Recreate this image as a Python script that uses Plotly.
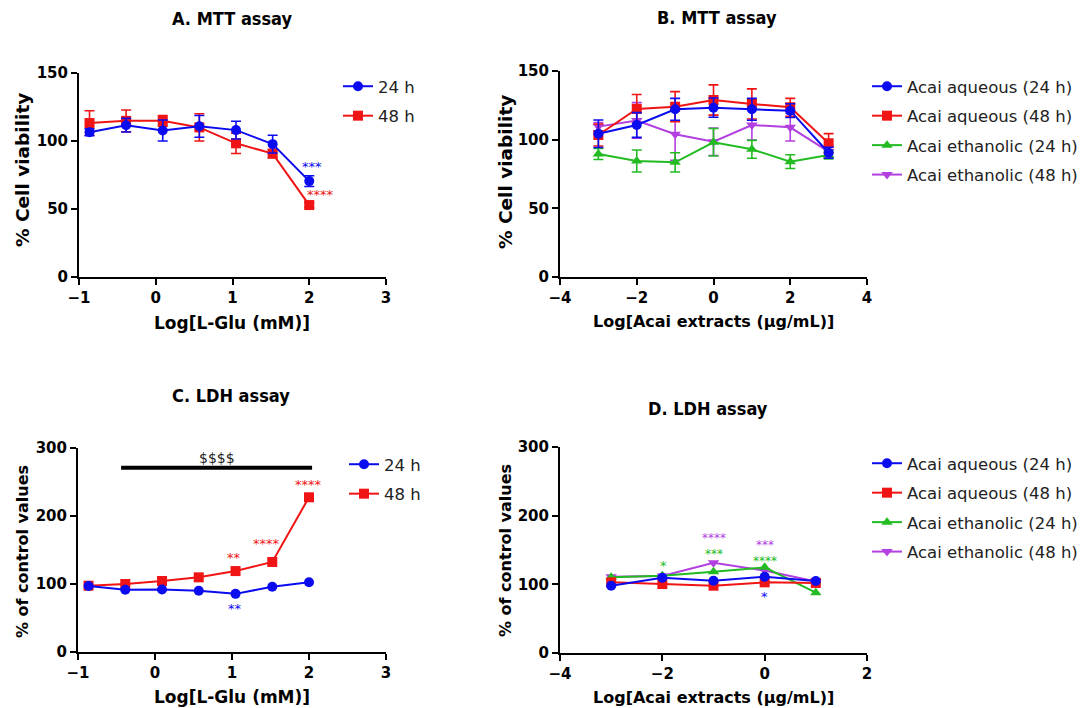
import plotly.graph_objects as go

# ---------------- data ----------------
# Panel A: MTT, L-Glu
glu_log = [-0.863, -0.386, 0.091, 0.568, 1.046, 1.523, 2.0]
mtt_glu_24 = [106.4, 111.6, 107.7, 110.8, 108.0, 97.7, 70.5]
mtt_glu_24_err = [2.5, 5, 7.7, 8, 6.5, 6.5, 4]
mtt_glu_48 = [113.2, 114.8, 114.8, 110.0, 98.3, 90.7, 52.9]
mtt_glu_48_err = [9, 8, 4, 10, 7.5, 3, 2]

# Panel B: MTT, Acai extracts
acai_log = [-3, -2, -1, 0, 1, 2, 3]
mtt_aq24 = [104.3, 110.7, 122.1, 123.3, 122.1, 121.1, 90.5]
mtt_aq24_err = [10, 9, 8, 7, 8, 5, 4]
mtt_aq48 = [103.4, 122.4, 124.0, 128.9, 126.0, 123.6, 97.4]
mtt_aq48_err = [8, 10.5, 11, 11, 11, 6.5, 7]
mtt_et24 = [89.6, 84.5, 83.5, 98.1, 93.0, 84.0, 88.9]
mtt_et24_err = [4, 8, 7, 10, 6.5, 5, 3]
mtt_et48 = [109.5, 114.0, 103.9, 98.5, 110.7, 109.0, 91.3]
mtt_et48_err = [3, 13, 19, 10, 11, 10, 4]

# Panel C: LDH, L-Glu
ldh_glu_24 = [97.0, 91.5, 92.0, 90.0, 85.5, 96.0, 102.5]
ldh_glu_48 = [97.5, 100.0, 104.4, 109.8, 119.0, 132.4, 227.5]

# Panel D: LDH, Acai extracts
acai_log_d = [-3, -2, -1, 0, 1]
ldh_aq24 = [98.0, 109.6, 105.3, 111.0, 104.8]
ldh_aq48 = [102.9, 100.4, 98.0, 102.9, 102.0]
ldh_et24 = [110.2, 112.5, 118.4, 124.7, 87.8]
ldh_et48 = [111.0, 112.0, 131.4, 120.0, 104.0]

series_names_glu = ["24 h", "48 h"]
series_names_acai = ["Acai aqueous (24 h)", "Acai aqueous (48 h)",
                     "Acai ethanolic (24 h)", "Acai ethanolic (48 h)"]

panel_titles = ["A. MTT assay", "B. MTT assay", "C. LDH assay", "D. LDH assay"]
x_titles = ["Log[L-Glu (mM)]", "Log[Acai extracts (μg/mL)]",
            "Log[L-Glu (mM)]", "Log[Acai extracts (μg/mL)]"]
y_titles = ["% Cell viability", "% Cell viability",
            "% of control values", "% of control values"]

# significance marks: (panel, text, x, y, series index)
sig_glu = [
    ("A", "***", 2.03, 81, 0), ("A", "****", 2.14, 60.5, 1),
    ("C", "**", 1.03, 139, 1), ("C", "****", 1.45, 159, 1),
    ("C", "****", 1.99, 246, 1), ("C", "**", 1.04, 64, 0),
]
sig_acai = [
    ("D", "*", -1.98, 128, 2), ("D", "****", -1.0, 164.5, 3),
    ("D", "***", -1.0, 146.6, 2), ("D", "***", 0.0, 154.3, 3),
    ("D", "****", 0.0, 137.8, 2), ("D", "*", 0.0, 82, 0),
]
bar_x = [-0.44, 2.04]
bar_y = 271
bar_label = "$$$$"

# ---------------- style ----------------
OFF = 8                      # page body margin of the browser
W, H = 1092 - OFF, 708 - OFF
colors = ["#0b0bf0", "#f01414", "#22bb22", "#b23fe0"]
symbols = ["circle", "square", "triangle-up", "triangle-down"]
BOLD = "DejaVu Sans"

def px(x):
    return (x - OFF) / W

def py(y):
    return (H - (y - OFF)) / H

doms = {
    "A": ([px(79), px(386)], [py(277), py(73)]),
    "B": ([px(560), px(867)], [py(277), py(71)]),
    "C": ([px(78), px(386)], [py(652), py(448)]),
    "D": ([px(560), px(867)], [py(653), py(447)]),
}
axid = {"A": "", "B": "2", "C": "3", "D": "4"}
xr = {"A": [-1, 3], "B": [-4, 4], "C": [-1, 3], "D": [-4, 2]}
yr = {"A": [0, 150], "B": [0, 150], "C": [0, 300], "D": [0, 300]}
xd = {"A": 1, "B": 2, "C": 1, "D": 2}
yd = {"A": 50, "B": 50, "C": 100, "D": 100}
legname = {"A": "legend", "B": "legend2", "C": "legend3", "D": "legend4"}

fig = go.Figure()

def add(panel, x, y, err, idx, name, rank):
    k = axid[panel]
    fig.add_trace(go.Scatter(
        x=x, y=y, name=name, mode="lines+markers",
        xaxis="x" + k, yaxis="y" + k,
        line=dict(color=colors[idx], width=2),
        marker=dict(symbol=symbols[idx], size=10, color=colors[idx]),
        error_y=(dict(type="data", array=err, visible=True, color=colors[idx],
                      thickness=1.6, width=5) if err is not None else None),
        legend=legname[panel], legendgroup=panel + str(idx), legendrank=rank,
        cliponaxis=False,
    ))

# Panel A
add("A", glu_log, mtt_glu_48, mtt_glu_48_err, 1, series_names_glu[1], 2)
add("A", glu_log, mtt_glu_24, mtt_glu_24_err, 0, series_names_glu[0], 1)
# Panel B
add("B", acai_log, mtt_et48, mtt_et48_err, 3, series_names_acai[3], 4)
add("B", acai_log, mtt_et24, mtt_et24_err, 2, series_names_acai[2], 3)
add("B", acai_log, mtt_aq48, mtt_aq48_err, 1, series_names_acai[1], 2)
add("B", acai_log, mtt_aq24, mtt_aq24_err, 0, series_names_acai[0], 1)
# Panel C
add("C", glu_log, ldh_glu_48, None, 1, series_names_glu[1], 2)
add("C", glu_log, ldh_glu_24, None, 0, series_names_glu[0], 1)
# Panel D
add("D", acai_log_d, ldh_et48, None, 3, series_names_acai[3], 4)
add("D", acai_log_d, ldh_et24, None, 2, series_names_acai[2], 3)
add("D", acai_log_d, ldh_aq48, None, 1, series_names_acai[1], 2)
add("D", acai_log_d, ldh_aq24, None, 0, series_names_acai[0], 1)

layout = dict(
    width=W, height=H, margin=dict(l=0, r=0, t=0, b=0),
    paper_bgcolor="white", plot_bgcolor="white",
    font=dict(family="DejaVu Sans", color="black"),
    showlegend=True,
)
for p in "ABCD":
    k = axid[p]
    common = dict(
        showline=True, linecolor="black", linewidth=2,
        ticks="outside", ticklen=6, tickwidth=2, tickcolor="black",
        showgrid=False, zeroline=False, tick0=0,
        tickfont=dict(family=BOLD, size=15, weight="bold", color="black"),
        automargin=False, fixedrange=True,
    )
    layout["xaxis" + k] = dict(domain=doms[p][0], range=xr[p], dtick=xd[p],
                               anchor="y" + k, **common)
    layout["yaxis" + k] = dict(domain=doms[p][1], range=yr[p], dtick=yd[p],
                               anchor="x" + k, **common)

leg_pos = {"A": (338, 69), "B": (867, 69), "C": (344, 447), "D": (867, 446)}
for p in "ABCD":
    lx, ly = leg_pos[p]
    layout[legname[p]] = dict(
        x=px(lx), y=py(ly), xanchor="left", yanchor="top",
        font=dict(family="DejaVu Sans", size=16.5, color="#222222"),
        bgcolor="rgba(0,0,0,0)", traceorder="grouped", tracegroupgap=5,
        itemwidth=30,
    )

fig.update_layout(**layout)

ann = []
# panel titles
title_pos = {"A": (232, 19), "B": (717, 17), "C": (231, 395), "D": (708, 408)}
for i, p in enumerate("ABCD"):
    x, y = title_pos[p]
    ann.append(dict(text=panel_titles[i], x=px(x), y=py(y), xref="paper", yref="paper",
                    showarrow=False, xanchor="center", yanchor="middle",
                    font=dict(family="DejaVu Sans Condensed, DejaVu Sans", size=18,
                              weight="bold", color="black")))
# axis titles
xt_pos = {"A": (232, 323), "B": (713, 321), "C": (232, 697), "D": (713, 697)}
xt_size = {"A": 17, "B": 16, "C": 17, "D": 16}
yt_pos = {"A": (22, 170), "B": (505, 172), "C": (22, 552), "D": (505, 551)}
yt_size = {"A": 18.5, "B": 18.5, "C": 16, "D": 16}
for i, p in enumerate("ABCD"):
    x, y = xt_pos[p]
    ann.append(dict(text=x_titles[i], x=px(x), y=py(y), xref="paper", yref="paper",
                    showarrow=False, xanchor="center", yanchor="middle",
                    font=dict(family=BOLD, size=xt_size[p], weight="bold", color="black")))
    x, y = yt_pos[p]
    ann.append(dict(text=y_titles[i], x=px(x), y=py(y), xref="paper", yref="paper",
                    showarrow=False, xanchor="center", yanchor="middle", textangle=-90,
                    font=dict(family=BOLD, size=yt_size[p], weight="bold", color="black")))

# significance marks: stacked marks at the same x are merged into one two-line label
marks = sig_glu + sig_acai
used = set()
for i, (p, t, x, y, idx) in enumerate(marks):
    if i in used:
        continue
    group = [i]
    for j in range(i + 1, len(marks)):
        q = marks[j]
        if j not in used and q[0] == p and abs(q[2] - x) < 0.05 and abs(q[3] - y) < 25:
            group.append(j)
    used.update(group)
    k = axid[p]
    if len(group) == 1:
        ann.append(dict(text=t, x=x, y=y, xref="x" + k, yref="y" + k, showarrow=False,
                        xanchor="center", yanchor="middle",
                        font=dict(family="DejaVu Sans", size=13, color=colors[idx])))
    else:
        items = sorted((marks[g] for g in group), key=lambda m: -m[3])
        txt = "<br>".join("<span style='color:%s'>%s</span>" % (colors[m[4]], m[1]) for m in items)
        ymid = sum(m[3] for m in items) / len(items)
        ann.append(dict(text=txt, x=x, y=ymid, xref="x" + k, yref="y" + k, showarrow=False,
                        xanchor="center", yanchor="middle", borderpad=0,
                        font=dict(family="DejaVu Sans", size=12, color=colors[items[0][4]])))

# bar label
ann.append(dict(text=bar_label, x=(bar_x[0] + bar_x[1]) / 2, y=bar_y, xref="x3", yref="y3",
                showarrow=False, xanchor="center", yanchor="bottom",
                font=dict(family="DejaVu Sans", size=14, color="#222222")))
fig.update_layout(annotations=ann)

fig.add_shape(type="line", x0=bar_x[0], x1=bar_x[1], y0=bar_y, y1=bar_y,
              xref="x3", yref="y3", line=dict(color="black", width=4))

fig.write_html("out.html")
